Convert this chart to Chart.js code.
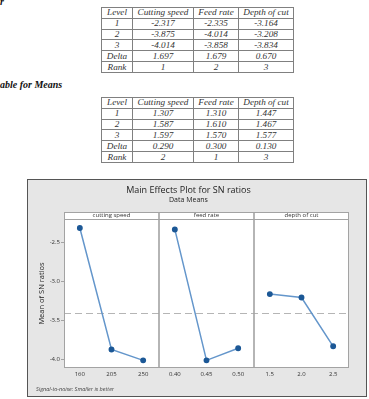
<!DOCTYPE html>
<html lang="en">
<head>
    <meta charset="UTF-8">
    <title>Main Effects Plot for SN ratios</title>
    <style>
        body {
            margin: 0;
            width: 369px;
            height: 399px;
            overflow: hidden;
            background: #fff;
            position: relative;
            font-family: "Liberation Serif", serif;
            color: #2a2a2a;
        }
        .head {
            position: absolute;
            left: 0;
            font-weight: bold;
            font-style: italic;
            font-size: 10px;
            line-height: 10px;
            color: #111;
        }
        table {
            position: absolute;
            left: 101px;
            width: 192px;
            height: 66px;
            border-collapse: collapse;
            font-family: "Liberation Serif", serif;
            font-style: italic;
            font-size: 9.2px;
            table-layout: fixed;
            color: #333;
        }
        td {
            border: 1px solid #808080;
            padding: 0;
            text-align: center;
            line-height: 9px;
        }
        .box {
            position: absolute;
            left: 27px;
            top: 179px;
            width: 340px;
            height: 218px;
            box-sizing: border-box;
            border: 1px solid #555;
            background: #e6e6e6;
        }
        .box canvas {
            position: absolute;
            left: 0;
            top: 0;
        }
        .note {
            position: absolute;
            left: 8px;
            top: 205px;
            font-family: "Open Sans", sans-serif;
            font-size: 5.5px;
            font-style: italic;
            color: #444;
        }
    </style>
    <script src="https://cdn.jsdelivr.net/npm/chart.js"></script>
</head>
<body>
    <div class="head" style="top:-3px">r</div>
    <table style="top:7px">
        <colgroup><col style="width:31px"><col style="width:61px"><col style="width:45px"><col style="width:55px"></colgroup>
        <tr><td>Level</td><td>Cutting speed</td><td>Feed rate</td><td>Depth of cut</td></tr>
        <tr><td>1</td><td>-2.317</td><td>-2.335</td><td>-3.164</td></tr>
        <tr><td>2</td><td>-3.875</td><td>-4.014</td><td>-3.208</td></tr>
        <tr><td>3</td><td>-4.014</td><td>-3.858</td><td>-3.834</td></tr>
        <tr><td>Delta</td><td>1.697</td><td>1.679</td><td>0.670</td></tr>
        <tr><td>Rank</td><td>1</td><td>2</td><td>3</td></tr>
    </table>
    <div class="head" style="top:80px">able for Means</div>
    <table style="top:97px">
        <colgroup><col style="width:31px"><col style="width:61px"><col style="width:45px"><col style="width:55px"></colgroup>
        <tr><td>Level</td><td>Cutting speed</td><td>Feed rate</td><td>Depth of cut</td></tr>
        <tr><td>1</td><td>1.307</td><td>1.310</td><td>1.447</td></tr>
        <tr><td>2</td><td>1.587</td><td>1.610</td><td>1.467</td></tr>
        <tr><td>3</td><td>1.597</td><td>1.570</td><td>1.577</td></tr>
        <tr><td>Delta</td><td>0.290</td><td>0.300</td><td>0.130</td></tr>
        <tr><td>Rank</td><td>2</td><td>1</td><td>3</td></tr>
    </table>

    <div class="box">
        <canvas id="snChart" width="338" height="216"></canvas>
        <div class="note">Signal-to-noise: Smaller is better</div>
    </div>

    <script>
        // factors and their levels
        const factors = ['cutting speed', 'feed rate', 'depth of cut'];
        const cuttingLevels = ['160', '205', '250'];
        const feedLevels = ['0.40', '0.45', '0.50'];
        const depthLevels = ['1.5', '2.0', '2.5'];

        // mean SN ratios per level
        const snCutting = [-2.317, -3.875, -4.014];
        const snFeed = [-2.335, -4.014, -3.858];
        const snDepth = [-3.164, -3.208, -3.834];

        const yTicks = [-2.5, -3.0, -3.5, -4.0];
        const yMin = -4.112;
        const yMax = -2.201;

        const levels = [cuttingLevels, feedLevels, depthLevels];
        const sn = [snCutting, snFeed, snDepth];
        const allLabels = levels.flat();
        const allValues = sn.flat();
        const grandMean = allValues.reduce((a, b) => a + b, 0) / allValues.length;

        const lineColor = '#6496cb';
        const dotColor = '#1c5896';
        const frameColor = '#a3a3a3';

        const datasets = factors.map((f, i) => ({
            label: f,
            data: levels[i].map((l, k) => ({ x: l, y: sn[i][k] })),
            borderColor: lineColor,
            borderWidth: 1.5,
            pointBackgroundColor: dotColor,
            pointBorderColor: dotColor,
            pointRadius: 2.2,
            tension: 0
        }));

        const panelFrame = {
            id: 'panelFrame',
            beforeDatasetsDraw(chart) {
                const { ctx, chartArea: a, scales } = chart;
                ctx.save();
                ctx.fillStyle = '#fff';
                ctx.fillRect(a.left, a.top - 7, a.right - a.left, a.bottom - a.top + 7);
                // grand mean reference line
                const y = Math.round(scales.y.getPixelForValue(grandMean)) + 0.5;
                ctx.strokeStyle = '#b5b5b5';
                ctx.lineWidth = 1;
                ctx.setLineDash([7, 4]);
                ctx.beginPath();
                ctx.moveTo(a.left, y);
                ctx.lineTo(a.right, y);
                ctx.stroke();
                ctx.restore();
            },
            afterDatasetsDraw(chart) {
                const { ctx, chartArea: a, scales } = chart;
                const x = scales.x;
                const edges = [a.left];
                for (let i = 1; i < factors.length; i++) {
                    const k = i * 3;
                    edges.push((x.getPixelForValue(k - 1) + x.getPixelForValue(k)) / 2);
                }
                edges.push(a.right);
                ctx.save();
                ctx.strokeStyle = frameColor;
                ctx.lineWidth = 1;
                ctx.strokeRect(a.left + 0.5, a.top - 7 + 0.5, a.right - a.left - 1, a.bottom - a.top + 7 - 1);
                ctx.beginPath();
                ctx.moveTo(a.left, a.top + 0.5);
                ctx.lineTo(a.right, a.top + 0.5);
                ctx.stroke();
                ctx.lineWidth = 1.6;
                for (let i = 1; i < edges.length - 1; i++) {
                    ctx.beginPath();
                    ctx.moveTo(edges[i], a.top - 7);
                    ctx.lineTo(edges[i], a.bottom);
                    ctx.stroke();
                }
                ctx.fillStyle = '#333';
                ctx.font = '6px "Open Sans", sans-serif';
                ctx.textAlign = 'center';
                ctx.textBaseline = 'middle';
                factors.forEach((f, i) => {
                    ctx.fillText(f, (edges[i] + edges[i + 1]) / 2, a.top - 3.3);
                });
                ctx.restore();
            }
        };

        Chart.defaults.font.family = '"Open Sans", sans-serif';
        Chart.defaults.color = '#333';

        new Chart(document.getElementById('snChart'), {
            type: 'line',
            data: { labels: allLabels, datasets: datasets },
            options: {
                responsive: false,
                animation: false,
                devicePixelRatio: 1,
                layout: { padding: { top: 0, right: 17, left: 0, bottom: 0 } },
                plugins: {
                    legend: { display: false },
                    tooltip: { enabled: false },
                    title: {
                        display: true,
                        text: 'Main Effects Plot for SN ratios',
                        font: { size: 9, weight: 'normal', lineHeight: 1 },
                        color: '#222',
                        padding: { top: 5.5, bottom: 0 }
                    },
                    subtitle: {
                        display: true,
                        text: 'Data Means',
                        font: { size: 7, lineHeight: 1 },
                        color: '#222',
                        padding: { top: 1.5, bottom: 16 }
                    }
                },
                scales: {
                    x: {
                        type: 'category',
                        offset: true,
                        grid: { display: false, tickLength: 3 },
                        border: { display: false },
                        ticks: { font: { size: 6 }, color: '#333', padding: 0, maxRotation: 0, autoSkip: false },
                        afterFit(s) { s.height = 28; }
                    },
                    y: {
                        min: yMin,
                        max: yMax,
                        grid: { drawOnChartArea: false, tickLength: 3, color: frameColor },
                        border: { display: false },
                        ticks: {
                            font: { size: 6 },
                            color: '#333',
                            padding: 1,
                            callback: v => v.toFixed(1)
                        },
                        afterBuildTicks(s) { s.ticks = yTicks.map(v => ({ value: v })); },
                        title: {
                            display: true,
                            text: 'Mean of SN ratios',
                            font: { size: 7.5 },
                            color: '#222',
                            padding: { top: 9, bottom: 0 }
                        },
                        afterFit(s) { s.width = 36; }
                    }
                }
            },
            plugins: [panelFrame]
        });
    </script>
</body>
</html>
